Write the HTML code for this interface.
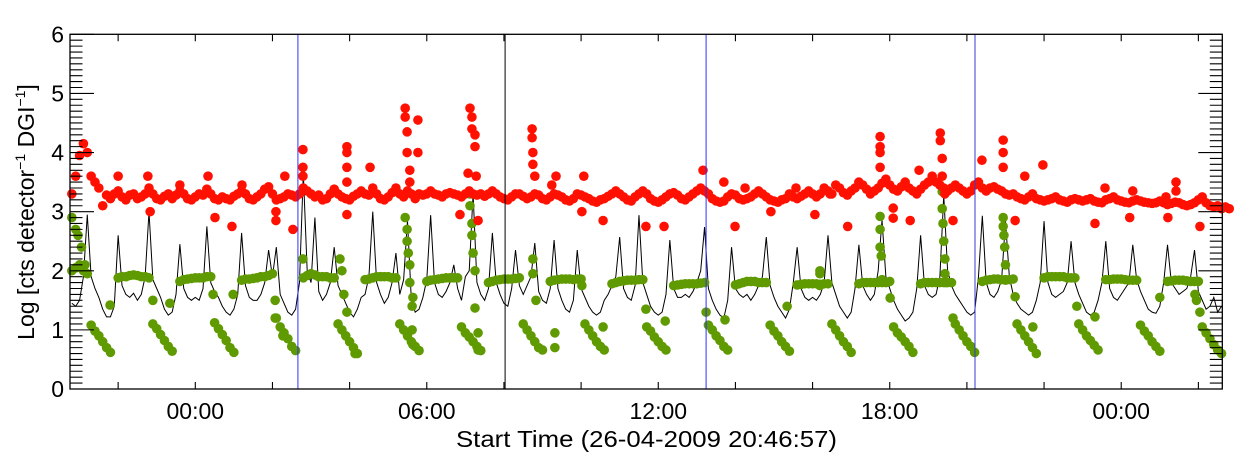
<!DOCTYPE html>
<html><head><meta charset="utf-8"><style>
html,body{margin:0;padding:0;background:#fff}
svg{display:block;font-family:"Liberation Sans",sans-serif}
</style></head><body>
<svg id="chart" width="1240" height="460" viewBox="0 0 1240 460" xmlns="http://www.w3.org/2000/svg">
<g id="marks"></g>
<g id="axes"></g>
<text x="456" y="447" font-size="23" textLength="381" lengthAdjust="spacingAndGlyphs" font-family="Liberation Sans, sans-serif" fill="#000">Start Time (26-04-2009 20:46:57)</text>
<text transform="translate(34,212) rotate(-90)" text-anchor="middle" font-size="23" font-family="Liberation Sans, sans-serif" fill="#000">Log [cts detector<tspan dy="-9" font-size="14">−1</tspan><tspan dy="9"> DGI</tspan><tspan dy="-9" font-size="14">−1</tspan><tspan dy="9">]</tspan></text>
</svg>
<script>
// time axis: hours from 00:00 (27-04), sampled every 0.1 h starting at -3.2 h
const T0 = -3.2, DT = 0.1;
const xTickHours = [-2,0,2,4,6,8,10,12,14,16,18,20,22,24,26];
const xTickLabels = {"0":"00:00","6":"06:00","12":"12:00","18":"18:00","24":"00:00"};
const yTicks = [0,1,2,3,4,5,6];
const vLinesT = [2.66, 8.03, 13.24, 20.21];
const vLinesC = ["#3030ff","#000000","#3030ff","#3a3ad8"];

const blackSeries = [1.45,1.4,1.5,1.9,2.95,1.9,1.7,1.55,1.35,1.22,1.22,1.4,2.6,1.75,1.6,1.55,1.62,1.5,1.6,1.9,3.0,1.85,1.7,1.55,1.35,1.25,1.3,1.6,2.45,1.7,1.55,1.5,1.55,1.5,1.7,2.75,1.8,1.65,1.55,1.4,1.3,1.25,1.35,1.6,2.64,1.75,1.55,1.5,1.5,1.6,1.8,2.35,1.9,2.4,1.6,1.45,1.3,1.25,1.35,1.8,3.65,2.0,1.8,2.9,1.65,1.5,1.6,1.8,2.4,1.75,1.6,1.45,1.3,1.22,1.35,1.55,1.6,1.9,3.0,1.8,1.6,1.45,1.55,1.8,2.3,1.6,1.85,2.85,1.5,1.3,1.35,1.55,1.85,2.94,1.8,1.6,1.55,1.65,1.8,2.1,1.7,1.5,1.9,2.0,3.3,1.8,1.6,1.5,1.7,2.64,1.8,1.6,1.45,1.4,1.7,2.35,1.75,1.6,1.75,1.9,2.47,1.65,1.5,1.45,1.7,2.52,1.7,1.5,1.35,1.3,1.5,2.35,1.7,1.55,1.4,1.3,1.25,1.3,1.5,1.6,1.75,1.9,2.57,1.7,1.55,1.5,1.75,2.94,1.8,1.6,1.4,1.3,1.25,1.3,1.6,2.52,1.7,1.55,1.55,1.6,1.55,1.65,1.8,2.0,2.74,1.7,1.5,1.35,1.25,1.2,1.5,2.4,1.7,1.6,1.55,1.6,1.5,1.6,1.75,1.9,2.57,1.75,1.55,1.4,1.3,1.2,1.35,1.8,2.4,1.7,1.55,1.5,1.55,1.5,1.6,1.8,2.6,1.8,1.6,1.4,1.3,1.2,1.3,1.7,2.44,1.75,1.6,1.5,1.6,2.0,2.86,1.9,1.7,1.5,1.35,1.25,1.15,1.2,1.3,1.7,2.6,1.75,1.6,1.55,1.6,1.9,3.28,2.0,1.75,1.6,1.5,1.4,1.3,1.25,1.3,1.9,2.93,1.8,1.6,1.55,1.65,1.85,2.84,1.9,1.6,1.45,1.35,1.3,1.25,1.3,1.5,1.8,2.84,1.8,1.6,1.55,1.6,1.65,1.8,2.5,1.8,1.6,1.45,1.3,1.25,1.3,1.5,1.8,2.5,1.7,1.55,1.5,1.6,1.7,1.8,2.44,1.85,1.65,1.5,1.35,1.3,1.28,1.4,1.8,2.44,1.8,1.7,1.6,1.65,1.7,1.9,2.35,1.65,1.5,1.35,1.4,1.55,1.3,1.4];

const redSeries = [3.3,3.6,3.95,4.15,4.0,3.6,3.5,3.4,3.1,3.28,3.22,3.3,3.35,3.25,3.2,3.28,3.3,3.22,3.25,3.3,3.4,3.3,3.22,3.2,3.26,3.3,3.22,3.28,3.35,3.3,3.22,3.2,3.25,3.3,3.28,3.38,3.3,3.22,3.2,3.25,3.22,3.2,3.26,3.3,3.35,3.3,3.22,3.2,3.25,3.3,3.38,3.42,3.3,3.2,3.22,3.25,3.3,3.28,3.25,3.3,3.4,3.35,3.3,3.25,3.28,3.2,3.22,3.3,3.38,3.3,3.25,3.22,3.2,3.26,3.3,3.35,3.3,3.28,3.4,3.3,3.22,3.2,3.25,3.32,3.4,3.3,3.25,3.35,3.3,3.22,3.3,3.28,3.3,3.35,3.3,3.28,3.25,3.3,3.32,3.3,3.28,3.25,3.3,3.35,3.3,3.28,3.3,3.26,3.3,3.35,3.3,3.25,3.22,3.2,3.25,3.3,3.3,3.26,3.22,3.25,3.3,3.28,3.22,3.2,3.25,3.3,3.28,3.25,3.2,3.18,3.22,3.3,3.28,3.25,3.22,3.18,3.16,3.2,3.22,3.26,3.3,3.35,3.3,3.25,3.2,3.18,3.25,3.3,3.35,3.3,3.22,3.18,3.16,3.2,3.25,3.3,3.32,3.28,3.22,3.2,3.25,3.3,3.35,3.4,3.35,3.3,3.22,3.18,3.16,3.18,3.25,3.3,3.28,3.22,3.2,3.22,3.25,3.3,3.35,3.3,3.25,3.2,3.18,3.16,3.2,3.22,3.3,3.25,3.22,3.26,3.3,3.35,3.3,3.25,3.3,3.4,3.35,3.3,3.45,3.4,3.32,3.28,3.35,3.4,3.5,3.45,3.38,3.3,3.35,3.4,3.48,3.55,3.45,3.38,3.35,3.42,3.5,3.4,3.35,3.3,3.38,3.45,3.5,3.6,3.5,3.45,3.4,3.35,3.4,3.45,3.4,3.35,3.3,3.35,3.45,3.5,3.4,3.35,3.4,3.42,3.38,3.35,3.3,3.28,3.3,3.25,3.22,3.2,3.25,3.3,3.22,3.2,3.18,3.2,3.22,3.25,3.2,3.18,3.16,3.2,3.22,3.2,3.18,3.2,3.22,3.18,3.16,3.15,3.2,3.22,3.25,3.2,3.18,3.16,3.15,3.18,3.2,3.18,3.16,3.15,3.14,3.15,3.18,3.15,3.12,3.14,3.16,3.15,3.12,3.1,3.12,3.15,3.2,3.25,3.15,3.1,3.08,3.1,3.05,3.08,3.05];

const greenSeries = [2.0,2.05,2.1,2.0,1.95,
1.08,0.98,0.9,0.8,0.7,0.62,null,1.88,1.9,1.9,1.92,1.93,1.92,1.9,1.9,1.88,
1.1,1.02,0.92,0.82,0.72,0.64,null,1.82,1.85,1.86,1.87,1.88,1.88,1.88,1.9,1.9,
1.12,1.02,0.92,0.82,0.7,0.62,null,1.84,1.86,1.86,1.87,1.88,1.9,1.9,1.92,1.95,
1.2,1.05,0.95,0.85,0.72,0.65,null,1.88,1.92,1.95,1.93,1.9,1.9,1.9,1.88,1.88,
1.1,1.0,0.9,0.8,0.7,0.6,null,1.85,1.86,1.88,1.9,1.9,1.9,1.9,1.88,1.88,
1.1,1.0,0.9,0.8,0.72,0.65,null,1.82,1.84,1.85,1.86,1.87,1.88,1.88,1.88,1.88,
1.05,0.95,0.88,0.8,0.72,0.65,null,1.8,1.82,1.84,1.85,1.86,1.86,1.86,1.87,1.88,
1.1,1.0,0.9,0.8,0.7,0.66,null,1.82,1.84,1.85,1.86,1.86,1.86,1.85,1.86,1.86,
1.1,1.0,0.9,0.8,0.72,0.66,null,1.78,1.8,1.82,1.83,1.84,1.84,1.84,1.85,1.85,
1.05,0.98,0.88,0.8,0.72,0.66,null,1.75,1.76,1.77,1.78,1.78,1.78,1.78,1.79,1.8,
1.08,1.0,0.9,0.82,0.72,0.66,null,1.76,1.78,1.8,1.82,1.82,1.82,1.8,1.8,1.8,
1.08,0.98,0.9,0.8,0.72,0.64,null,1.76,1.77,1.78,1.78,1.78,1.78,1.77,1.78,1.78,
1.1,1.0,0.9,0.8,0.72,0.62,null,1.78,1.8,1.8,1.8,1.8,1.8,1.8,1.8,1.82,
1.05,0.95,0.88,0.8,0.72,0.62,null,1.78,1.8,1.8,1.8,1.8,1.8,1.8,1.8,1.8,
1.1,1.0,0.9,0.8,0.72,0.62,null,1.82,1.84,1.85,1.86,1.86,1.85,1.84,1.85,1.86,
1.1,1.0,0.9,0.8,0.7,0.6,null,1.88,1.9,1.9,1.9,1.9,1.9,1.88,1.88,1.88,
1.1,1.0,0.9,0.82,0.74,0.66,null,1.85,1.85,1.86,1.86,1.86,1.85,1.84,1.84,1.84,
1.08,0.98,0.9,0.8,0.72,0.64,null,1.82,1.83,1.84,1.84,1.84,1.83,1.82,1.82,1.82,
1.05,0.95,0.85,0.75,0.66,0.6];

const redExtraT = [-2.0,-1.23,-1.17,-0.4,0.33,0.51,0.95,1.21,2.09,2.09,2.32,2.53,2.79,2.79,2.79,3.93,3.93,3.93,3.93,3.93,4.53,5.44,5.44,5.49,5.49,5.56,5.56,5.77,5.77,7.12,7.17,7.17,7.25,7.25,7.07,7.28,6.86,7.33,8.73,8.73,8.75,8.75,8.8,9.35,9.24,10.07,10.57,10.02,11.68,12.15,13.16,13.7,13.99,14.25,14.92,15.57,16.06,16.45,16.91,17.75,17.75,17.75,17.75,18.09,18.09,18.53,18.76,19.31,19.31,19.36,19.36,19.43,19.64,20.39,20.94,20.94,20.94,21.25,21.5,21.97,23.32,23.58,24.22,24.3,25.16,25.21,25.42,25.42,26.04];
const redExtraV = [3.6,3.6,3.0,3.45,3.6,2.9,2.75,3.45,3.0,2.85,3.6,2.7,4.05,3.75,3.6,4.1,4.0,3.75,3.5,2.95,3.75,4.75,4.6,4.35,4.0,3.7,3.5,4.55,4.0,4.75,4.6,4.4,4.3,4.1,3.65,3.6,2.95,2.85,4.4,4.25,4.0,3.8,3.6,3.6,3.45,3.6,2.85,3.0,2.75,2.75,3.7,3.5,2.75,3.4,3.0,3.4,2.95,3.3,2.75,4.27,4.1,4.0,3.75,3.06,2.89,2.85,3.7,4.33,4.2,3.9,3.6,3.3,2.85,3.87,4.21,4.0,3.75,2.85,3.6,3.79,2.8,3.4,2.9,3.35,3.25,2.9,3.5,3.35,2.75];

const greenExtraT = [-3.2,-3.1,-3.04,-2.95,-2.86,-2.21,-1.1,-0.66,0.46,0.98,2.07,2.07,2.27,2.79,3.75,3.8,3.85,3.93,4.14,5.44,5.49,5.49,5.52,5.56,5.56,5.62,5.62,5.64,5.64,7.12,7.12,7.17,7.17,7.2,7.25,7.25,7.33,7.33,8.75,8.75,8.83,9.32,9.32,10.02,10.57,11.68,12.18,13.24,13.73,15.34,16.19,16.19,16.19,17.75,17.75,17.75,17.78,17.8,18.01,19.36,19.36,19.38,19.4,19.43,19.43,19.45,19.64,20.94,20.94,20.96,20.98,21.0,21.0,21.25,21.71,22.85,23.32,25.0,25.91,25.95,26.04];
const greenExtraV = [2.9,2.7,2.6,2.4,2.1,1.42,1.5,1.45,1.6,1.6,1.5,1.2,0.9,2.2,2.2,2.0,1.6,1.3,0.6,2.9,2.7,2.5,2.3,2.1,1.8,1.4,1.0,0.75,1.55,3.3,3.1,2.8,2.6,2.3,2.0,1.37,0.95,0.66,2.2,1.95,1.5,0.95,0.7,1.75,1.05,1.35,1.15,1.3,1.17,1.4,2.0,1.95,1.75,2.92,2.7,2.4,2.25,1.85,1.54,3.34,3.05,2.8,2.5,2.2,1.95,1.8,1.2,2.9,2.75,2.6,2.4,2.1,1.85,1.56,1.05,1.4,1.22,1.55,1.6,1.5,1.3];

const L=70, R=1222.3, TOP=34.3, BOT=389;
const xOf = t => 195.3 + t*38.58;
const yOf = v => BOT - v*(BOT-TOP)/6;
const NS = "http://www.w3.org/2000/svg";
const marks = document.getElementById('marks');
const axes = document.getElementById('axes');
function mk(tag, parent){ const e=document.createElementNS(NS,tag); parent.appendChild(e); return e; }

let d='';
blackSeries.forEach((v,i)=>{ d += (i?'L':'M') + xOf(T0+i*DT).toFixed(2)+' '+yOf(v).toFixed(2)+' '; });
const bl = mk('path', marks);
bl.setAttribute('d', d); bl.setAttribute('fill','none'); bl.setAttribute('stroke','#000'); bl.setAttribute('stroke-width','1');



function dot(t,v,col,name){
  const c = mk('circle', marks);
  c.setAttribute('cx', xOf(t).toFixed(2)); c.setAttribute('cy', yOf(v).toFixed(2));
  c.setAttribute('r', '4.8'); c.setAttribute('fill', col);
  
  
}
const RED='#ff1000', GREEN='#5f9a00';
greenSeries.forEach((v,i)=>{ if(v!==null) dot(T0+i*DT, v, GREEN, 'green-point'); });
greenExtraT.forEach((t,i)=>dot(t, greenExtraV[i], GREEN, 'green-point'));
redSeries.forEach((v,i)=>{ if(v!==null) dot(T0+i*DT, v, RED, 'red-point'); });
redExtraT.forEach((t,i)=>dot(t, redExtraV[i], RED, 'red-point'));

vLinesT.forEach((t,i)=>{
  const l = mk('line', marks);
  l.setAttribute('x1', xOf(t)); l.setAttribute('x2', xOf(t));
  l.setAttribute('y1', TOP); l.setAttribute('y2', BOT);
  l.setAttribute('stroke', vLinesC[i]); l.setAttribute('stroke-width','1');
  
  
});

const fr = mk('rect', axes);
fr.setAttribute('x',L); fr.setAttribute('y',TOP); fr.setAttribute('width',R-L); fr.setAttribute('height',BOT-TOP);
fr.setAttribute('fill','none'); fr.setAttribute('stroke','#000'); fr.setAttribute('stroke-width','1.3');



let td='';
for(let k=0;k<=60;k++){
  const y=yOf(k/10), len=(k%10===0)?24:12.5;
  td += `M${L} ${y.toFixed(2)}h${len}M${R} ${y.toFixed(2)}h${-len}`;
}
xTickHours.forEach(h=>{ const x=xOf(h); td += `M${x.toFixed(2)} ${BOT}v-7M${x.toFixed(2)} ${TOP}v7`; });
const tp = mk('path', axes);
tp.setAttribute('d', td); tp.setAttribute('stroke','#000'); tp.setAttribute('stroke-width','1.1'); tp.setAttribute('fill','none');



yTicks.forEach(v=>{
  const t = mk('text', axes);
  t.setAttribute('x', 64); t.setAttribute('y', (yOf(v)+8).toFixed(1));
  t.setAttribute('text-anchor','end'); t.setAttribute('font-size','23');
  t.textContent = String(v);
  
  
});
xTickHours.forEach(h=>{
  const lab = xTickLabels[String(h)];
  if(!lab) return;
  const t = mk('text', axes);
  t.setAttribute('x', xOf(h).toFixed(1)); t.setAttribute('y', 419);
  t.setAttribute('text-anchor','middle'); t.setAttribute('font-size','23');
  t.textContent = lab;
  
  
});
</script>
</body></html>
